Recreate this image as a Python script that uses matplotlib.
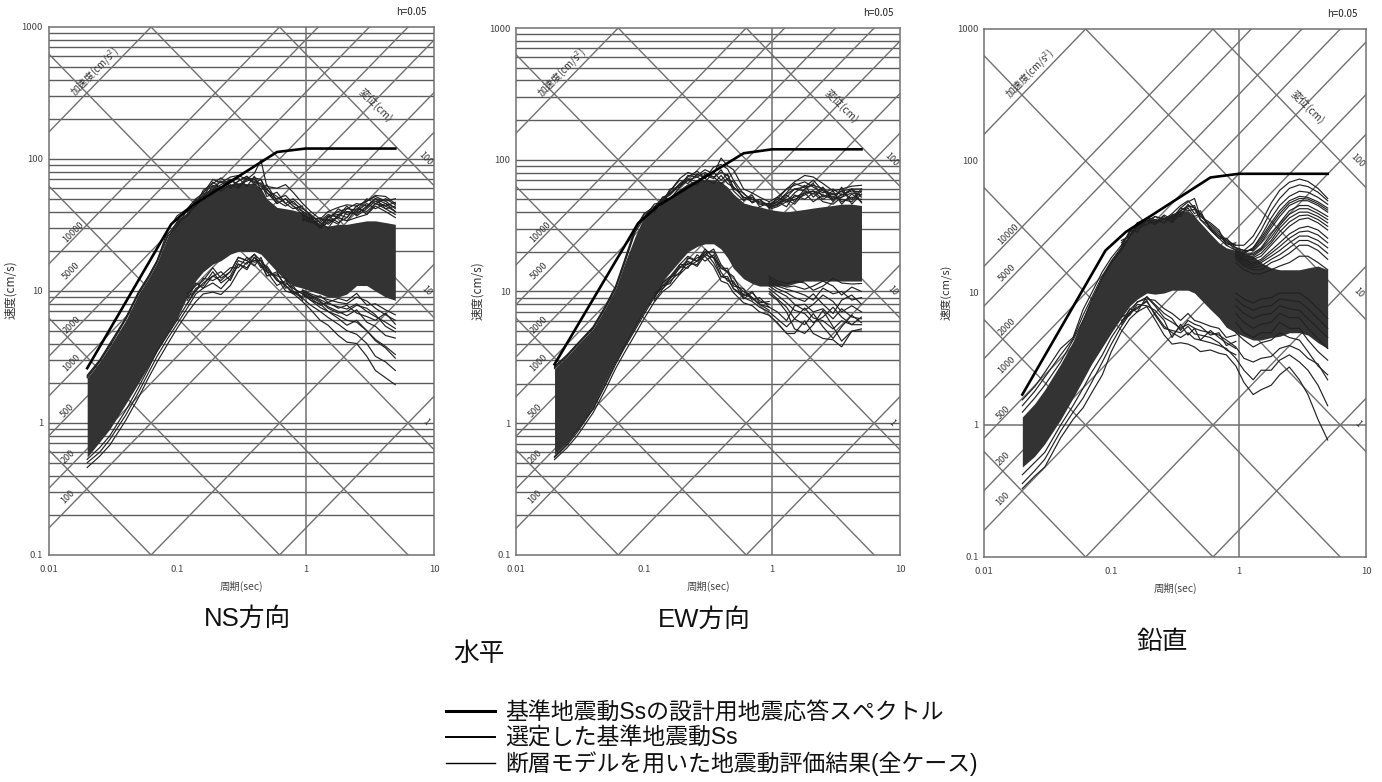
import matplotlib
matplotlib.use('Agg')
import matplotlib.pyplot as plt
from matplotlib.lines import Line2D
import numpy as np

CJK = ['Noto Sans CJK JP', 'DejaVu Sans']
LATIN_CJK = ['Liberation Sans', 'Noto Sans CJK JP']
plt.rcParams['font.family'] = CJK

W, H = 1382, 782

# period grids (sec)
T = [.02, .025, .03, .04, .05, .06, .07, .085, .1, .12, .14, .16, .19, .22, .26, .3, .35,
     .4, .45, .5, .6, .7, .8, .95, 1.1, 1.3, 1.5, 1.8, 2.1, 2.5, 3, 3.5, 4.2, 5]
T_MID = [.12, .14, .16, .19, .22, .26, .3, .35, .4, .45, .5, .6, .7, .8, .95]
T_RIGHT = [.95, 1.1, 1.3, 1.5, 1.8, 2.1, 2.5, 3, 3.5, 4.2, 5]
T_DESIGN = [.02, .09, .13, .6, 1, 5]

ACCEL = [1, 10, 100, 200, 500, 1000, 2000, 5000, 10000, 100000]
DISP = [.001, .01, .1, 1, 10, 100]
Y_MINOR = [.2, .3, .4, .5, .6, .7, .8, .9, 1, 2, 3, 4, 5, 6, 7, 8, 9, 10,
           20, 30, 40, 50, 60, 70, 80, 90, 100, 200, 300, 400, 500, 600, 700, 800, 900]

# NS
ns_design = [2.6, 32, 44, 113, 120, 120]
ns_hi = [2.2, 2.9, 3.8, 6, 9.4, 12.5, 16.5, 26, 35, 39, 46, 50, 60, 62, 64, 66, 65,
         66, 60, 50, 43, 42, 41, 39, 35, 32, 31, 32, 32, 33, 34, 34, 33, 32]
ns_lo = [.55, .72, .9, 1.4, 2, 2.7, 3.5, 4.8, 6.2, 9, 12, 14, 16, 17, 19, 20, 20,
         20, 19, 17, 14, 12, 11, 10.5, 10, 9.5, 9, 9, 9.5, 11, 11, 10, 9, 8.5]
ns_curves = [
    [2.3, 3, 4, 6.3, 9.8, 13, 17, 29, 37, 42, 50, 55, 70, 66, 73, 75, 70,
     78, 98, 62, 60, 64, 56, 46, 40, 35, 40, 43, 45, 44, 48, 53, 52, 46],
    [2.25, 2.95, 3.9, 6.2, 9.6, 12.8, 17, 27, 33, 37, 45, 58, 65, 72, 62, 68, 74,
     66, 70, 58, 52, 46, 50, 43, 37, 33, 37, 38, 40, 39, 43, 50, 48, 42],
    [2.2, 2.9, 3.8, 6.1, 9.4, 12.5, 16.5, 26, 31, 41, 48, 52, 58, 64, 70, 62, 72,
     70, 64, 60, 46, 50, 44, 40, 36, 30, 34, 36, 34, 36, 38, 46, 44, 40],
    [.46, .56, .68, 1.05, 1.55, 2.2, 2.9, 4, 5.2, 6.8, 8.3, 9.5, 9.8, 9.4, 11, 14, 16.5,
     17, 17, 14.5, 12.5, 10, 9.6, 8.3, 7.2, 6, 5.5, 4.6, 4.1, 4, 3.2, 2.5, 2.2, 1.95],
    [.5, .6, .75, 1.15, 1.7, 2.4, 3.2, 4.4, 5.6, 7.4, 9.5, 10.5, 11.5, 10.4, 12.5, 16, 15,
     18, 16, 13, 13.5, 11, 9.8, 8.8, 7.8, 7, 6.3, 5.6, 5, 4.7, 4, 3.2, 2.9, 2.5],
    [.53, .65, .8, 1.25, 1.85, 2.6, 3.5, 4.7, 6, 8, 10, 11.5, 13, 12, 14, 18, 17,
     19, 17, 15, 12, 11.5, 10.5, 9.5, 8.5, 8, 7, 6.5, 6, 5.8, 5, 4.2, 3.7, 3.1],
]
ns_mid = [
    [41, 47, 56, 63, 61, 70, 64, 68, 72, 70, 55, 50, 53, 46, 42],
    [38, 49, 52, 67, 60, 66, 72, 62, 74, 58, 64, 48, 44, 48, 40],
    [40, 44, 54, 59, 68, 60, 68, 74, 64, 66, 52, 56, 46, 42, 44],
    [37, 46, 50, 62, 57, 64, 60, 70, 68, 62, 56, 46, 50, 44, 38],
    [8, 10.5, 11, 14, 11.5, 13, 17, 16, 19, 15.5, 14, 11, 12, 10, 9],
    [9, 10, 12.5, 12, 13, 15, 15, 18, 16.5, 17, 13, 14, 10.5, 11, 8.5],
    [8.5, 11.5, 10.5, 13, 14, 12, 16, 14.5, 18, 15, 15.5, 12, 11, 9.5, 10],
    [9.5, 11, 12, 15, 12.5, 14, 18, 17, 15.5, 18, 14, 13, 12.5, 10.5, 9.5],
]
ns_fan = [
    [40, 37, 30, 36, 40, 42, 41, 50, 46, 50, 45],
    [42, 38, 33, 30, 38, 36, 44, 48, 52, 48, 50],
    [39, 35, 32, 35, 32, 40, 38, 44, 50, 46, 43],
    [38, 34, 30, 33, 36, 34, 42, 40, 46, 42, 38],
    [36, 33, 34, 38, 36, 42, 46, 44, 50, 42, 44],
    [37, 36, 35, 34, 42, 38, 40, 46, 42, 46, 40],
    [35, 33, 36, 32, 37, 44, 37, 42, 48, 44, 47],
    [34, 36, 31, 37, 33, 36, 44, 38, 44, 40, 36],
    [9.5, 8.5, 7.5, 7, 6.2, 5.5, 6, 5, 4.3, 3.8, 3.3],
    [9.8, 9, 8.2, 7.6, 7, 6.5, 7.2, 5.8, 5.4, 4.6, 4.4],
    [10, 9.3, 8.6, 8, 7.6, 7.3, 8, 7, 6.4, 5.8, 5.2],
    [10.2, 9.5, 9, 8.6, 8.2, 8, 9, 8.4, 7.4, 6.6, 6],
    [10, 9.2, 8.4, 7.4, 6.8, 7, 7.8, 7.4, 6.6, 5.4, 4.9],
    [9.2, 8.8, 7.8, 8.2, 7.4, 7.8, 6.8, 6.4, 6, 6.8, 5.6],
    [9.6, 8.8, 9.2, 8.2, 8.8, 8.4, 9.6, 7.8, 8, 7.2, 6.6],
]

# EW
ew_design = [2.8, 33, 45, 112, 120, 120]
ew_hi = [2.6, 3.2, 3.9, 5.2, 7.5, 10.5, 16, 26, 37, 42, 47, 52, 60, 66, 70, 70, 70,
         68, 62, 55, 47, 45, 44, 42, 41, 40, 41, 42, 43, 44, 45, 46, 46, 45]
ew_lo = [.58, .72, .9, 1.35, 2.1, 3, 3.9, 5.4, 7.2, 9.5, 12, 14, 17, 20, 22, 23, 23,
         21, 18, 15, 12.5, 11.5, 11, 11, 11, 11, 11.5, 12, 12, 12, 12, 12, 12, 12, 10][:34]
ew_curves = [
    [2.7, 3.3, 4, 5.4, 7.8, 11, 17, 30, 39, 44, 50, 58, 72, 80, 76, 84, 78,
     103, 90, 84, 60, 56, 52, 48, 52, 60, 68, 76, 74, 66, 58, 60, 63, 64],
    [2.65, 3.25, 3.95, 5.3, 7.6, 10.8, 16.5, 29, 38, 43, 52, 55, 66, 74, 82, 72, 88,
     92, 85, 70, 55, 50, 47, 46, 48, 55, 60, 62, 64, 60, 54, 58, 60, 60],
    [2.6, 3.2, 3.9, 5.2, 7.5, 10.5, 16, 28, 36, 46, 48, 60, 62, 70, 74, 80, 74,
     80, 76, 62, 52, 48, 50, 44, 46, 50, 52, 56, 58, 54, 50, 52, 56, 54],
    [.53, .65, .8, 1.2, 1.8, 2.6, 3.4, 4.7, 6.2, 8.3, 10, 11, 13.5, 15.5, 17, 18.5, 15.5,
     12, 11.5, 9.8, 8.2, 7.8, 7, 6.6, 5.8, 4.8, 4.8, 6, 4.8, 4.4, 4.3, 3.8, 5, 5],
    [.55, .68, .85, 1.28, 1.95, 2.8, 3.7, 5.1, 6.7, 9, 11, 12.5, 15, 17, 15.5, 19, 18,
     13, 12.5, 10.5, 9, 8.4, 7.6, 7, 6.2, 5.4, 6.2, 7.5, 6.3, 6, 5.2, 6, 5.6, 5.6],
    [.56, .7, .88, 1.3, 2, 2.9, 3.8, 5.3, 7, 9.2, 11.5, 13, 16, 18.5, 17, 20, 20,
     15, 14, 11.5, 10, 9, 8, 7.6, 7, 6, 7.8, 8, 7, 7.4, 6.2, 7.4, 6.4, 6.2],
]
ew_mid = [
    [43, 49, 56, 65, 72, 68, 76, 72, 84, 70, 68, 50, 52, 46, 45],
    [41, 52, 50, 62, 76, 74, 68, 80, 70, 78, 60, 56, 47, 50, 43],
    [44, 46, 58, 70, 66, 78, 72, 66, 76, 66, 62, 52, 50, 48, 46],
    [40, 50, 54, 64, 70, 64, 78, 74, 66, 72, 58, 49, 54, 44, 47],
    [8.5, 10.5, 12, 14, 16.5, 16, 20, 16.5, 13, 13, 10.5, 9.5, 9, 8, 7.2],
    [9.2, 11, 11.5, 15.5, 15, 19, 17, 19, 14, 12, 12, 8.8, 9.8, 8.5, 8],
    [8.8, 11.8, 13, 13.5, 18, 17, 21, 18, 15, 15, 11, 10.5, 8.6, 9, 7.6],
    [9.8, 10.5, 12.5, 16, 16, 18, 19, 21, 16, 14, 13, 9.2, 10, 8.2, 8.4],
]
ew_fan = [
    [45, 50, 60, 64, 68, 62, 56, 60, 54, 58, 57],
    [43, 46, 52, 60, 58, 55, 62, 50, 54, 60, 52],
    [42, 44, 48, 50, 54, 58, 50, 56, 48, 52, 50],
    [46, 48, 56, 66, 62, 70, 58, 52, 58, 50, 60],
    [44, 52, 48, 56, 64, 52, 60, 48, 62, 46, 55],
    [47, 46, 54, 48, 60, 66, 52, 58, 46, 55, 48],
    [44, 48, 44, 54, 50, 56, 48, 46, 52, 60, 47],
    [43, 45, 50, 46, 56, 48, 54, 52, 50, 48, 58],
    [9.6, 8.6, 7, 5.2, 4.8, 5.6, 7.2, 5.4, 4.2, 5, 5.2],
    [10, 8.8, 7.6, 6.2, 5.6, 6.8, 5.4, 4.4, 5.4, 6.6, 5.8],
    [10.5, 9.4, 8.2, 7.2, 6.8, 5.8, 6.4, 7.6, 6.4, 5.6, 6.4],
    [11, 10, 9.2, 8, 7.2, 8, 9.4, 8.4, 7, 7.8, 7],
    [11.5, 10.5, 9.8, 9, 8.4, 9.6, 8, 6.8, 8.6, 9.4, 8],
    [12, 11, 10.4, 10, 9.4, 8.6, 10.6, 9.6, 10, 8.6, 9],
    [12.5, 11.5, 10.8, 11, 10.4, 11, 12, 11, 9.4, 10.8, 10],
    [13, 12, 11.5, 12, 11.6, 10.2, 11, 12.6, 11.6, 11.4, 11.5],
]

# vertical
ud_design = [1.7, 21, 29, 75, 80, 80]
ud_hi = [1.15, 1.45, 1.85, 2.9, 4.3, 6.5, 9, 13.5, 18, 23, 28, 33, 36, 36, 37, 40, 42,
         42, 38, 34, 28, 24, 22, 21, 20, 19, 17, 15.5, 15, 15, 15, 15.5, 16, 15]
ud_lo = [.48, .58, .72, 1.1, 1.6, 2.2, 2.9, 3.9, 5, 6.5, 8, 9, 10, 9.8, 10, 10.5, 10.5,
         10.5, 10, 9, 7.5, 6.5, 5.5, 5, 4.7, 4.4, 4.4, 4.6, 4.7, 5, 5, 4.8, 4.2, 3.8]
ud_curves = [
    [1.55, 1.95, 2.5, 3.8, 4.6, 7.5, 10, 14.5, 18.5, 23, 29, 34, 37, 34, 39, 36, 44,
     49, 52, 38, 33, 29, 25, 23, 23, 27, 34, 48, 60, 69, 73, 70, 62, 52],
    [1.4, 1.8, 2.3, 3.4, 4.5, 6.8, 9.2, 13.5, 17.5, 22, 27, 33, 35, 38, 36, 40, 46,
     50, 44, 40, 31, 27, 24, 22, 21, 24, 30, 42, 52, 62, 66, 64, 58, 50],
    [1.25, 1.6, 2, 3, 4.4, 6.2, 8.8, 13, 17, 21, 27, 31, 33, 36, 34, 38, 42,
     46, 44, 36, 30, 26, 23, 21, 20, 22, 27, 37, 46, 54, 59, 58, 53, 47],
    [.33, .41, .48, .8, 1.1, 1.35, 1.75, 2.4, 3.6, 5.1, 6.4, 7.2, 7.9, 6.3, 4.8, 4.1, 4.2,
     4.1, 3.9, 3.6, 3.7, 3.5, 3.4, 2.8, 2.1, 1.7, 1.85, 2, 2.4, 2.75, 2.2, 1.7, 1.1, .77],
    [.36, .45, .55, .9, 1.25, 1.6, 2.1, 3, 4.1, 5.6, 7, 7.8, 8.6, 7, 5.6, 5, 4.6,
     5, 4.5, 4.4, 4.2, 4, 3.8, 3.2, 2.6, 2.2, 2.6, 2.6, 3.1, 3.4, 3, 2.6, 2, 1.4],
    [.42, .52, .62, 1, 1.4, 1.9, 2.5, 3.4, 4.6, 6, 7.5, 8.5, 9.3, 8, 6.5, 6, 5.4,
     5.8, 5.4, 5.2, 5, 4.8, 4.4, 3.9, 3.2, 3, 3.2, 3.3, 3.8, 4, 3.7, 3.2, 2.9, 2.2],
]
ud_mid = [
    [24, 28, 32, 35, 33, 37, 35, 42, 45, 46, 36, 32, 28, 24, 23],
    [22, 30, 29, 37, 36, 34, 39, 38, 47, 40, 42, 30, 26, 26, 22],
    [25, 27, 34, 33, 38, 36, 37, 44, 42, 43, 38, 34, 30, 23, 24],
    [23, 29, 31, 36, 34, 38, 34, 40, 44, 38, 40, 31, 27, 25, 21],
    [5.8, 7.2, 7.6, 8.8, 6.8, 5.4, 5.2, 5, 5.6, 4.9, 4.8, 4.6, 4.2, 3.7, 3.4],
    [6.2, 6.8, 8.2, 8, 7.4, 6.2, 4.6, 5.8, 4.8, 5.4, 4.4, 5.2, 4.6, 4.2, 3.8],
    [6, 7.6, 7.2, 9.4, 8.2, 7, 6.4, 5.2, 6.2, 5.8, 5.6, 4.8, 5, 4, 4.3],
    [6.6, 7, 8.6, 9, 8.8, 7.6, 7, 6.2, 7, 6.2, 6, 5.6, 5.4, 4.6, 4.8],
]
ud_fan = [
    [21, 20, 22, 26, 34, 42, 50, 54, 53, 49, 44],
    [22, 21, 21, 24, 31, 38, 46, 50, 50, 46, 41],
    [21, 20, 20, 22, 28, 34, 42, 46, 46, 42, 38],
    [20, 19, 19, 21, 25, 31, 37, 41, 41, 38, 34],
    [20, 18, 18, 19, 23, 27, 32, 36, 37, 34, 30],
    [19, 18, 17, 18, 21, 24, 28, 31, 32, 30, 26],
    [19, 17, 16, 17, 19, 21, 24, 27, 27, 25, 22],
    [18, 16, 15, 15, 17, 18, 20, 23, 23, 21, 18],
    [17, 15, 14, 14, 15, 16, 17, 19, 19, 17, 15],
    [21.5, 20.5, 21.5, 25, 32.5, 40, 48, 52, 51.5, 47.5, 42.5],
    [20.5, 19.5, 19.5, 21.5, 26.5, 32.5, 39.5, 43.5, 43.5, 40, 36],
    [19.5, 18.5, 18.5, 20, 24, 29, 34.5, 38.5, 39, 36, 32],
    [19, 17.5, 16.5, 17.5, 20, 22.5, 26, 29, 29.5, 27.5, 24],
    [18.5, 16.5, 15.5, 16, 18, 19.5, 22, 25, 25, 23, 20],
    [5, 4.4, 3.9, 4.2, 4.4, 5, 4.6, 4.4, 3.6, 2.8, 2.4],
    [6, 5, 4.6, 5, 5, 6, 5.4, 5.4, 4.4, 3.6, 3.1],
    [7, 6, 5.4, 5.8, 6, 7, 6.5, 6.5, 5.4, 4.5, 3.8],
    [8, 7, 6.4, 6.8, 7, 8, 7.6, 7.4, 6.4, 5.4, 4.6],
    [9, 8, 7.4, 7.8, 8, 9, 8.8, 8.6, 7.6, 6.4, 5.4],
    [10, 9, 8.4, 9, 9.2, 10, 10, 10, 9, 7.6, 6.4],
]

ACC_LABELS = ['10000', '5000', '2000', '1000', '500', '200', '100']
ACC_LABEL_POS = [(.065, .612), (.060, .538), (.060, .436), (.060, .364), (.050, .273), (.050, .186), (.050, .110)]
DISP_LABELS = ['100', '10', '1']
DISP_LABEL_POS = [(.978, .751), (.98, .501), (.978, .251)]


def draw_panel(box, design, hi, lo, curves, mid, fan, full_grid, h_x, ylab_size):
    left, top, right, bottom = box
    ax = fig.add_axes([left / W, 1 - bottom / H, (right - left) / W, (bottom - top) / H])
    ax.set_xscale('log')
    ax.set_yscale('log')
    ax.set_xlim(.01, 10)
    ax.set_ylim(.1, 1000)

    grid_col = '#707070'
    if full_grid:
        for y in Y_MINOR:
            ax.axhline(y, color='#5c5c5c', lw=1.0, zorder=1)
    else:
        ax.axhline(1, color=grid_col, lw=1.1, zorder=1)
    ax.axvline(1, color=grid_col, lw=1.1, zorder=1)

    ends = np.array([.01, 10])
    for a in ACCEL:
        ax.plot(ends, a * ends / (2 * np.pi), color=grid_col, lw=1.0, zorder=1)
    for d in DISP:
        ax.plot(ends, 2 * np.pi * d / ends, color=grid_col, lw=1.0, zorder=1)

    ax.fill_between(T, lo, hi, color='#333333', lw=0, zorder=3)
    for c in curves:
        ax.plot(T, c, color='#222222', lw=.85, zorder=4)
    for c in mid:
        ax.plot(T_MID, c, color='#222222', lw=.85, zorder=4)
    for c in fan:
        ax.plot(T_RIGHT, c, color='#222222', lw=.85, zorder=4)
    ax.plot(T_DESIGN, design, color='black', lw=1.9, zorder=5)

    for side in ax.spines.values():
        side.set_color(grid_col)
        side.set_linewidth(1.1)
    ax.minorticks_off()
    ax.set_xticks([.01, .1, 1, 10])
    ax.set_xticklabels(['0.01', '0.1', '1', '10'])
    ax.set_yticks([.1, 1, 10, 100, 1000])
    ax.set_yticklabels(['0.1', '1', '10', '100', '1000'])
    ax.tick_params(axis='x', length=0, pad=7, labelsize=6.8, labelcolor='#444444')
    ax.tick_params(axis='y', length=0, pad=4, labelsize=6.8, labelcolor='#444444')

    ax.set_xlabel('周期(sec)', fontsize=7.5, color='#444444', labelpad=5.5)
    fig.text((left - 38) / W, 1 - (top + 263) / H, '速度(cm/s)', rotation=90, fontsize=ylab_size,
             color='#333333', ha='center', va='center')
    fig.text(h_x / W, 1 - (top - 15) / H, 'h=0.05', fontsize=7, color='#222222', ha='center', va='center')

    ax.text(.12, .915, '加速度(cm/s$^2$)', rotation=45, fontsize=7, color='#333333',
            ha='center', va='center', transform=ax.transAxes, zorder=6)
    ax.text(.848, .852, '変位(cm)', rotation=-45, fontsize=7.5, color='#333333',
            ha='center', va='center', transform=ax.transAxes, zorder=6)
    for s, p in zip(ACC_LABELS, ACC_LABEL_POS):
        ax.text(p[0], p[1], s, rotation=45, fontsize=6.5, color='#333333',
                ha='center', va='center', transform=ax.transAxes, zorder=6)
    for s, p in zip(DISP_LABELS, DISP_LABEL_POS):
        ax.text(p[0], p[1], s, rotation=-45, fontsize=6.5, color='#333333',
                ha='center', va='center', transform=ax.transAxes, zorder=6)
    return ax


fig = plt.figure(figsize=(W / 100, H / 100), dpi=100)

draw_panel((48.5, 27, 434, 555), ns_design, ns_hi, ns_lo, ns_curves, ns_mid, ns_fan, True, 411, 8.5)
draw_panel((516, 28, 900, 555), ew_design, ew_hi, ew_lo, ew_curves, ew_mid, ew_fan, True, 878, 8.5)
draw_panel((984, 29, 1366, 557), ud_design, ud_hi, ud_lo, ud_curves, ud_mid, ud_fan, False, 1342, 8)

for s, x, y in [('NS方向', 248, 619), ('EW方向', 704, 620), ('鉛直', 1162, 642), ('水平', 479, 654)]:
    fig.text(x / W, 1 - y / H, s, fontsize=18.5, color='#111111', ha='center', va='center', family=LATIN_CJK)

handles = [
    Line2D([], [], color='black', lw=2.2),
    Line2D([], [], color='black', lw=1.4),
    Line2D([], [], color='black', lw=1.0),
]
labels = ['基準地震動Ssの設計用地震応答スペクトル', '選定した基準地震動Ss', '断層モデルを用いた地震動評価結果(全ケース)']
fig.legend(handles, labels, loc='upper left', bbox_to_anchor=(446 / W, 1 - 701.5 / H), frameon=False,
           prop={'family': LATIN_CJK, 'size': 16.5}, handlelength=2.14, handletextpad=.44, labelspacing=.09,
           borderpad=0, borderaxespad=0, labelcolor='#111111')

fig.savefig('out.png', dpi=100)
